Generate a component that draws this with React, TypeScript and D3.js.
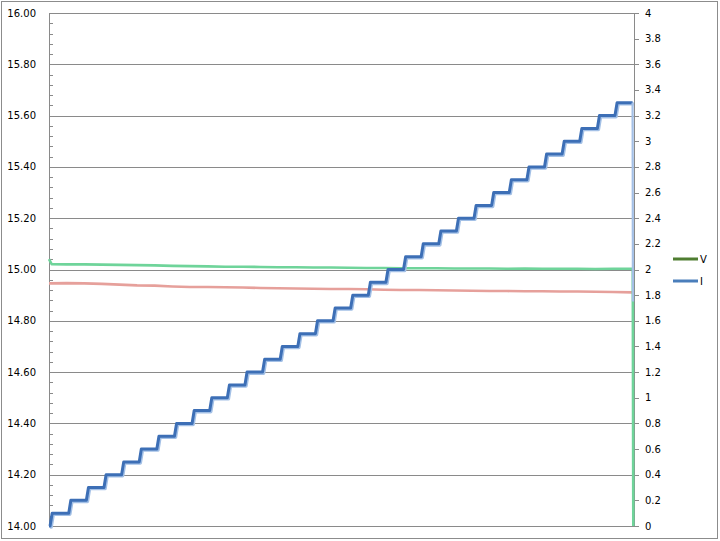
import React from "react";
import * as d3 from "d3";

// ---- data ----
const leftTicks = [14.0, 14.2, 14.4, 14.6, 14.8, 15.0, 15.2, 15.4, 15.6, 15.8, 16.0];
const rightTicks = [0, 0.2, 0.4, 0.6, 0.8, 1, 1.2, 1.4, 1.6, 1.8, 2, 2.2, 2.4, 2.6, 2.8, 3, 3.2, 3.4, 3.6, 3.8, 4];

const iLevels = [0.1, 0.2, 0.3, 0.4, 0.5, 0.6, 0.7, 0.8, 0.9, 1.0, 1.1, 1.2, 1.3, 1.4, 1.5, 1.6, 1.7, 1.8, 1.9, 2.0, 2.1, 2.2, 2.3, 2.4, 2.5, 2.6, 2.7, 2.8, 2.9, 3.0, 3.1, 3.2, 3.3];
const iStepT = [0.6, 11.2, 21.2, 31.2, 41.2, 51.2, 61.2, 71.2, 81.2, 91.2, 101.2, 111.2, 121.2, 131.2, 141.2, 151.2, 161.2, 171.2, 181.2, 191.2, 201.2, 211.2, 221.2, 231.2, 241.2, 251.2, 261.2, 271.2, 281.2, 291.2, 301.2, 311.2, 321.2];
const iEndT = 331.2;
const iDropValue = 1.75;

const greenT = [0, 1.5, 10, 20, 30, 40, 50, 60, 70, 80, 90, 100, 110, 120, 130, 140, 150, 160, 170, 180, 190, 200, 210, 220, 230, 240, 250, 260, 270, 280, 290, 300, 310, 320, 330, 331.3, 331.6];
const greenV = [15.040, 15.021, 15.020, 15.020, 15.019, 15.018, 15.017, 15.016, 15.014, 15.013, 15.012, 15.011, 15.011, 15.010, 15.009, 15.009, 15.008, 15.008, 15.007, 15.006, 15.006, 15.005, 15.005, 15.005, 15.004, 15.004, 15.004, 15.003, 15.004, 15.003, 15.003, 15.003, 15.002, 15.003, 15.003, 15.003, 14.0];

const redT = [0, 10, 20, 30, 40, 50, 60, 70, 80, 90, 100, 110, 120, 130, 140, 150, 160, 170, 180, 190, 200, 210, 220, 230, 240, 250, 260, 270, 280, 290, 300, 310, 320, 331];
const redV = [14.946, 14.947, 14.946, 14.944, 14.941, 14.938, 14.937, 14.934, 14.932, 14.932, 14.931, 14.930, 14.928, 14.927, 14.926, 14.925, 14.924, 14.924, 14.923, 14.921, 14.920, 14.920, 14.919, 14.918, 14.917, 14.916, 14.916, 14.915, 14.915, 14.914, 14.914, 14.913, 14.912, 14.911];

const legendItems = ["V", "I"];
const legendColors = ["#4F7D31", "#4A7EBB"];

// ---- layout ----
const W = 720, H = 541;
const L = 49, R = 634, T = 13, B = 526;
const FONT = "'DejaVu Sans', Verdana, sans-serif";

export default function App() {
  const x = d3.scaleLinear().domain([0, 332]).range([L, R]);
  const yL = d3.scaleLinear().domain([14, 16]).range([B, T]);
  const yR = d3.scaleLinear().domain([0, 4]).range([B, T]);

  const iPts: [number, number][] = [[0, 0]];
  iLevels.forEach((lv, k) => {
    const prev = k === 0 ? 0 : iLevels[k - 1];
    iPts.push([iStepT[k], prev]);
    iPts.push([iStepT[k] + 1.2, lv]);
  });
  iPts.push([iEndT, iLevels[iLevels.length - 1]]);
  const lineR = d3.line<[number, number]>().x((d) => x(d[0])).y((d) => yR(d[1]));
  const lineL = d3.line<[number, number]>().x((d) => x(d[0])).y((d) => yL(d[1]));
  const iPath = lineR(iPts) || "";
  const dropPath = lineR([[iEndT, iLevels[iLevels.length - 1]], [iEndT + 0.2, iDropValue]]) || "";
  const greenPath = lineL(greenT.map((t, i) => [t, greenV[i]] as [number, number])) || "";
  const redPath = lineL(redT.map((t, i) => [t, redV[i]] as [number, number])) || "";

  const minorTicks: number[] = [];
  for (let i = 0; i < leftTicks.length - 1; i++) {
    for (let j = 1; j < 5; j++) minorTicks.push(leftTicks[i] + (j * (leftTicks[i + 1] - leftTicks[i])) / 5);
  }

  return (
    <svg width={W} height={H} style={{ position: "fixed", left: 0, top: 0, background: "#fff" }} fontFamily={FONT}>
      <rect x={0} y={0} width={W} height={H} fill="#fff" />
      <rect x={1.5} y={1.5} width={716} height={537} fill="none" stroke="#8c8c8c" strokeWidth={1} />
      {leftTicks.map((v) => (
        <line key={"g" + v} x1={L} x2={R} y1={Math.round(yL(v)) + 0.5} y2={Math.round(yL(v)) + 0.5} stroke="#8a8a8a" strokeWidth={1} />
      ))}
      <line x1={L + 0.5} x2={L + 0.5} y1={T} y2={B + 0.5} stroke="#8a8a8a" />
      <line x1={R + 0.5} x2={R + 0.5} y1={T} y2={B + 0.5} stroke="#8a8a8a" />
      {minorTicks.map((v, i) => (
        <line key={"m" + i} x1={L} x2={L + 4} y1={Math.round(yL(v)) + 0.5} y2={Math.round(yL(v)) + 0.5} stroke="#8a8a8a" />
      ))}
      {rightTicks.map((v) => (
        <line key={"rt" + v} x1={R} x2={R + 5} y1={Math.round(yR(v)) + 0.5} y2={Math.round(yR(v)) + 0.5} stroke="#8a8a8a" />
      ))}
      {leftTicks.map((v) => (
        <text key={"lt" + v} x={36} y={yL(v)} textAnchor="end" dominantBaseline="central" fontSize={10} fill="#000">
          {v.toFixed(2)}
        </text>
      ))}
      {rightTicks.map((v) => (
        <text key={"rl" + v} x={645} y={yR(v)} textAnchor="start" dominantBaseline="central" fontSize={10} fill="#000">
          {String(+v.toFixed(1))}
        </text>
      ))}
      <g fill="none" strokeLinejoin="round" strokeLinecap="butt">
        <path d={redPath} stroke="#E6A09B" strokeWidth={2.6} />
        <path d={greenPath} stroke="#6FD49A" strokeWidth={2.6} />
        <path d={iPath} stroke="#A3C0E6" strokeWidth={3.4} transform="translate(1.1,1.1)" />
        <path d={iPath} stroke="#3D6FB6" strokeWidth={3} />
        <path d={dropPath} stroke="#A4C0E6" strokeWidth={2.2} />
      </g>
      {legendItems.map((name, i) => (
        <g key={name} transform={`translate(673, ${259 + i * 22})`}>
          <line x1={0} x2={25} y1={0} y2={0} stroke={legendColors[i]} strokeWidth={3} />
          <text x={27} y={0} dominantBaseline="central" fontSize={10} fill="#000">
            {name}
          </text>
        </g>
      ))}
    </svg>
  );
}
